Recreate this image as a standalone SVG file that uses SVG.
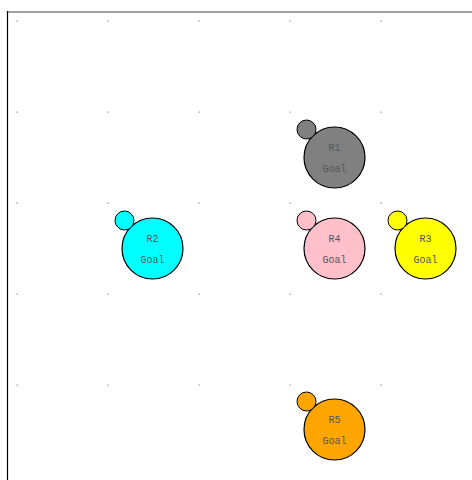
<svg xmlns="http://www.w3.org/2000/svg" width="472" height="480" viewBox="0 0 472 480">
<style>
.dot{fill:#888}
.big{stroke:#000;stroke-width:1.2}
.small{stroke:#000;stroke-width:1}
.lbl{font-family:"Liberation Mono","DejaVu Sans Mono",monospace;font-size:10px;fill:#555;text-anchor:middle}
</style>
<rect width="472" height="480" fill="#fff"/>
<line x1="7" y1="12" x2="472" y2="12" stroke="#808080" stroke-width="1.5"/>
<line x1="7.5" y1="11" x2="7.5" y2="480" stroke="#000" stroke-width="1.2"/>
<g id="grid">
<rect class="dot" x="16.5" y="20.5" width="1.2" height="1.2"/><rect class="dot" x="107.5" y="20.5" width="1.2" height="1.2"/><rect class="dot" x="198.5" y="20.5" width="1.2" height="1.2"/><rect class="dot" x="289.5" y="20.5" width="1.2" height="1.2"/><rect class="dot" x="380.5" y="20.5" width="1.2" height="1.2"/>
<rect class="dot" x="16.5" y="111.5" width="1.2" height="1.2"/><rect class="dot" x="107.5" y="111.5" width="1.2" height="1.2"/><rect class="dot" x="198.5" y="111.5" width="1.2" height="1.2"/><rect class="dot" x="289.5" y="111.5" width="1.2" height="1.2"/><rect class="dot" x="380.5" y="111.5" width="1.2" height="1.2"/>
<rect class="dot" x="16.5" y="202.5" width="1.2" height="1.2"/><rect class="dot" x="107.5" y="202.5" width="1.2" height="1.2"/><rect class="dot" x="198.5" y="202.5" width="1.2" height="1.2"/><rect class="dot" x="289.5" y="202.5" width="1.2" height="1.2"/><rect class="dot" x="380.5" y="202.5" width="1.2" height="1.2"/>
<rect class="dot" x="16.5" y="293.5" width="1.2" height="1.2"/><rect class="dot" x="107.5" y="293.5" width="1.2" height="1.2"/><rect class="dot" x="198.5" y="293.5" width="1.2" height="1.2"/><rect class="dot" x="289.5" y="293.5" width="1.2" height="1.2"/><rect class="dot" x="380.5" y="293.5" width="1.2" height="1.2"/>
<rect class="dot" x="16.5" y="384.5" width="1.2" height="1.2"/><rect class="dot" x="107.5" y="384.5" width="1.2" height="1.2"/><rect class="dot" x="198.5" y="384.5" width="1.2" height="1.2"/><rect class="dot" x="289.5" y="384.5" width="1.2" height="1.2"/><rect class="dot" x="380.5" y="384.5" width="1.2" height="1.2"/>
</g>
<g id="connectors"></g>
<g id="R1">
<circle class="big" cx="334.5" cy="157.5" r="30.5" fill="#808080"/>
<circle class="small" cx="306.5" cy="129.5" r="9.5" fill="#808080"/>
<text class="lbl" x="334.5" y="151">R1</text>
<text class="lbl" x="334.5" y="172">Goal</text>
</g>
<g id="R2">
<circle class="big" cx="152.5" cy="248.5" r="30.5" fill="#00ffff"/>
<circle class="small" cx="124.5" cy="220.5" r="9.5" fill="#00ffff"/>
<text class="lbl" x="152.5" y="242">R2</text>
<text class="lbl" x="152.5" y="263">Goal</text>
</g>
<g id="R4">
<circle class="big" cx="334.5" cy="248.5" r="30.5" fill="#ffc0cb"/>
<circle class="small" cx="306.5" cy="220.5" r="9.5" fill="#ffc0cb"/>
<text class="lbl" x="334.5" y="242">R4</text>
<text class="lbl" x="334.5" y="263">Goal</text>
</g>
<g id="R3">
<circle class="big" cx="425.5" cy="248.5" r="30.5" fill="#ffff00"/>
<circle class="small" cx="397.5" cy="220.5" r="9.5" fill="#ffff00"/>
<text class="lbl" x="425.5" y="242">R3</text>
<text class="lbl" x="425.5" y="263">Goal</text>
</g>
<g id="R5">
<circle class="big" cx="334.5" cy="429.5" r="30.5" fill="#ffa500"/>
<circle class="small" cx="306.5" cy="401.5" r="9.5" fill="#ffa500"/>
<text class="lbl" x="334.5" y="423">R5</text>
<text class="lbl" x="334.5" y="444">Goal</text>
</g>
</svg>
